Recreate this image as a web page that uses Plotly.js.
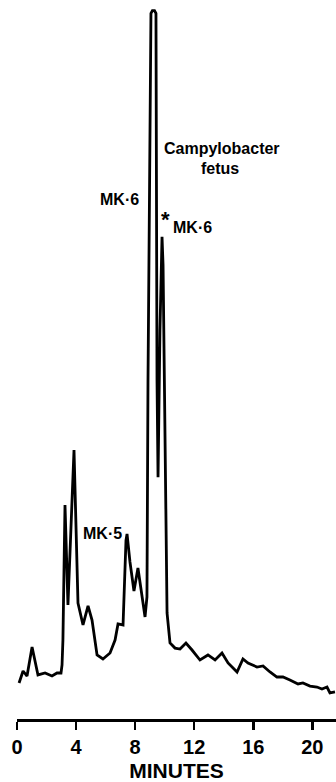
<!DOCTYPE html>
<html>
<head>
<meta charset="utf-8">
<script src="https://cdn.plot.ly/plotly-3.0.1.min.js"></script>
<style>html,body{margin:0;padding:0;background:#fff;}#chart{width:336px;height:782px;}</style>
</head>
<body>
<div id="chart"></div>
<script>
// Retention time (minutes) and detector response (arbitrary units, 100 = off scale)
const minutes = [0.14,0.41,0.68,1.02,1.42,1.90,2.37,2.71,2.98,3.05,3.11,3.25,3.45,3.86,4.13,4.47,4.81,5.08,5.42,5.82,6.30,6.64,6.84,7.18,7.38,7.45,7.65,7.92,8.19,8.46,8.67,8.80,8.87,9.07,9.17,9.31,9.41,9.48,9.55,9.68,9.82,9.89,10.02,10.16,10.36,10.70,11.04,11.44,11.85,12.39,12.93,13.41,13.88,14.29,14.90,15.30,15.64,16.25,16.66,17.13,17.60,18.01,18.48,19.03,19.36,19.84,20.31,20.65,20.99,21.19,21.53];
const response = [5.08,6.77,6.06,10.16,6.21,6.49,6.06,6.49,6.49,7.62,11.14,30.18,16.08,37.94,16.36,13.26,15.94,13.96,9.03,8.46,9.31,11.14,13.40,13.26,25.2,26.09,22.14,18.05,21.30,17.77,14.39,17.21,47.8,99.5,99.9,99.9,99.5,47.8,34.1,54.9,68.0,64.0,37.9,14.95,10.72,10.0,9.87,10.72,9.73,8.32,9.03,8.32,9.31,7.90,6.63,8.46,7.90,7.33,7.48,6.63,5.92,5.92,5.50,4.94,5.08,4.65,4.51,4.23,4.51,3.67,3.81];

const tickValues = [0,4,8,12,16,20];
const tickLabels = ["0","4","8","12","16","20"];

const labelText = ["MK·6", "Campylobacter", "fetus", "*", "MK·6", "MK·5"];
const labelX = [6.91, 13.88, 13.74, 10.05, 11.88, 5.82];
const labelY = [73.2, 80.4, 77.7, 70.5, 69.25, 26.1];
const labelSize = [16, 16, 16, 22, 16, 16];

const font = "'Liberation Sans', Arial, Helvetica, sans-serif";

const trace = {
  x: minutes, y: response, type: 'scatter', mode: 'lines',
  line: {color: '#000', width: 2.8, shape: 'linear'},
  hoverinfo: 'skip', showlegend: false
};

const annotations = labelText.map((t, i) => ({
  text: t, x: labelX[i], y: labelY[i], xref: 'x', yref: 'y',
  showarrow: false, xanchor: 'center', yanchor: 'middle',
  font: {family: font, size: labelSize[i], color: '#000', weight: 'bold'}
}));

const layout = {
  width: 336, height: 782,
  margin: {l: 17, r: 0, t: 0, b: 63, pad: 0},
  paper_bgcolor: '#fff', plot_bgcolor: '#fff',
  xaxis: {
    range: [0, 21.6], showgrid: false, zeroline: false,
    showline: true, linecolor: '#000', linewidth: 3,
    ticks: 'outside', ticklen: 8, tickwidth: 2.5, tickcolor: '#000',
    tickvals: tickValues, ticktext: tickLabels,
    tickfont: {family: font, size: 20, color: '#000', weight: 'bold'},
    title: {text: 'MINUTES', standoff: 16, font: {family: font, size: 21, color: '#000', weight: 'bold'}},
    fixedrange: true
  },
  yaxis: {
    range: [0, 101.4], visible: false, showgrid: false, zeroline: false, fixedrange: true
  },
  annotations: annotations
};

Plotly.newPlot('chart', [trace], layout, {displayModeBar: false, staticPlot: true});
</script>
</body>
</html>
